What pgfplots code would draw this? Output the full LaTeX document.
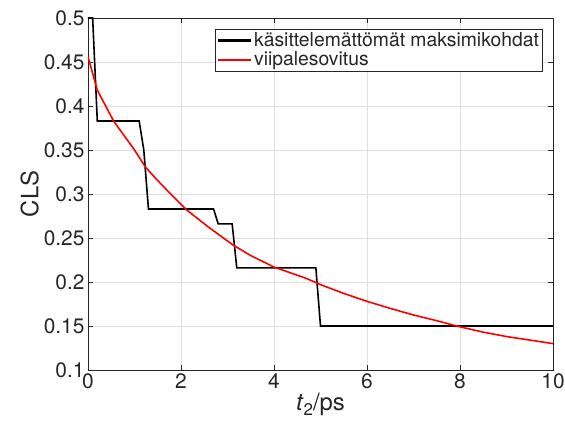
\documentclass[border=0pt]{standalone}
\usepackage{pgfplots}
\pgfplotsset{compat=1.18}
\usepackage{fontspec}
\setmainfont{TeX Gyre Heros}
\definecolor{axgray}{RGB}{38,38,38}
\definecolor{gridgray}{RGB}{223,223,223}

\begin{document}
\begin{tikzpicture}
\begin{axis}[
  name=ax,
  scale only axis,
  width=465bp, height=352bp,
  xmin=0, xmax=10, ymin=0.1, ymax=0.5,
  xtick={0,2,...,10},
  ytick={0.1,0.15,...,0.5},
  /pgf/number format/assume math mode=true,
  /pgf/number format/fixed,
  /pgf/number format/precision=2,
  tick label style={font=\fontsize{21}{24}\selectfont, color=axgray},
  label style={font=\fontsize{24}{28}\selectfont, color=axgray},
  xlabel={\textit{t}\raisebox{-0.35ex}{\fontsize{17}{20}\selectfont 2}/ps},
  ylabel={CLS},
  xlabel style={yshift=2bp},
  ylabel style={yshift=-2bp},
  axis line style={color=axgray, line width=0.8bp},
  tick style={color=axgray, line width=0.8bp},
  major tick length=5bp,
  tick align=inside,
  grid=major,
  major grid style={color=gridgray, line width=0.6bp},
  legend style={
    at={(0.978,0.969)}, anchor=north east,
    font=\fontsize{19.4}{22}\selectfont,
    draw=axgray, line width=0.8bp,
    inner sep=1.5bp, row sep=-0.5bp,
    cells={anchor=west, color=axgray},
  },
  legend image code/.code={\draw[#1, line width=2.2bp] (0bp,0bp) -- (33bp,0bp);},
]
% unprocessed maxima: piecewise constant steps
\addplot[black, line width=1.6bp] coordinates {
  (0,0.5) (0.1,0.5) (0.2,0.383) (1.1,0.383) (1.2,0.35) (1.3,0.283)
  (2.7,0.283) (2.8,0.266) (3.1,0.266) (3.2,0.216) (4.9,0.216)
  (5.0,0.15) (10,0.15)
};
\addlegendentry{käsittelemättömät maksimikohdat}
% slice fit
\addplot[red, line width=1.6bp] coordinates {
  (0,0.456) (0.2,0.418) (0.55,0.383) (1.0,0.350) (1.23,0.331)
  (1.45,0.318) (1.76,0.301) (2.12,0.282) (2.6,0.262) (3.12,0.242)
  (3.5,0.230) (4.0,0.217) (4.7,0.204) (5.0,0.197) (5.5,0.187)
  (6.0,0.178) (6.5,0.170) (7.0,0.1625) (7.5,0.156) (8.0,0.149)
  (8.5,0.143) (9.0,0.138) (9.5,0.134) (10,0.130)
};
\addlegendentry{viipalesovitus}
\end{axis}
\pgfresetboundingbox
\useasboundingbox ([shift={(-88bp,-60bp)}]ax.south west) rectangle ([shift={(12bp,18bp)}]ax.north east);
\end{tikzpicture}
\end{document}
